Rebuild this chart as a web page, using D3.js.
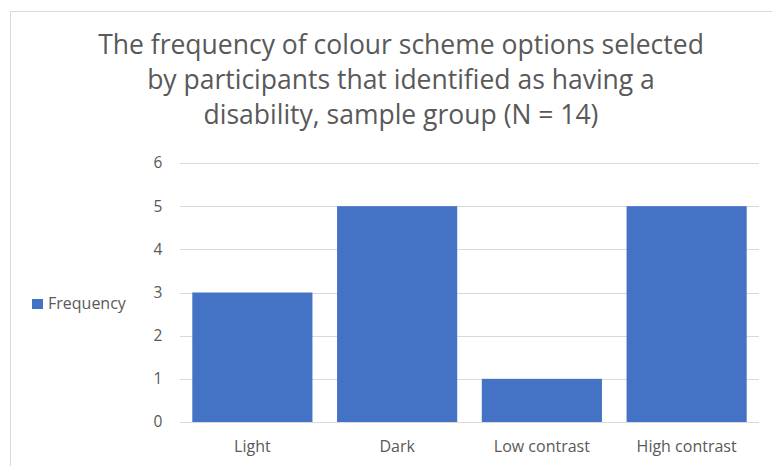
<!DOCTYPE html>
<html>
<head>
<meta charset="utf-8">
<script src="https://cdn.jsdelivr.net/npm/d3@7"></script>
<style>
  body { margin: 0; background: #fff; }
  svg { display: block; font-family: "Open Sans", sans-serif; }
</style>
</head>
<body>
<div id="chart"></div>
<script>
// chart data
var categories = ["Light", "Dark", "Low contrast", "High contrast"];
var frequency = [3, 5, 1, 5];
var yTicks = [0, 1, 2, 3, 4, 5, 6];
var titleLines = [
  "The frequency of colour scheme options selected",
  "by participants that identified as having a",
  "disability, sample group (N = 14)"
];
var seriesName = "Frequency";

var W = 772, H = 466;
var margin = {top: 163, right: 13, bottom: 44, left: 180};
var width = W - margin.left - margin.right,
    height = H - margin.top - margin.bottom;

var svg = d3.select("#chart").append("svg")
    .attr("width", W)
    .attr("height", H);

// outer chart border (only left/top visible in the crop)
svg.append("rect")
    .attr("x", 10.5).attr("y", 11.5)
    .attr("width", W + 20).attr("height", H + 20)
    .attr("fill", "none")
    .attr("stroke", "#d9d9d9")
    .attr("stroke-width", 1);

// title
svg.append("g").selectAll("text")
    .data(titleLines)
  .enter().append("text")
    .attr("x", 401)
    .attr("y", function(d, i) { return 54 + i * 35; })
    .attr("text-anchor", "middle")
    .style("font-size", "26.5px")
    .style("fill", "#595959")
    .text(function(d) { return d; });

var g = svg.append("g")
    .attr("transform", "translate(" + margin.left + "," + margin.top + ")");

var x = d3.scaleBand()
    .domain(categories)
    .range([0, width])
    .paddingInner(0.17)
    .paddingOuter(0.085);

var y = d3.scaleLinear()
    .domain([0, 6])
    .range([height, 0]);

// gridlines
g.append("g").selectAll("line")
    .data(yTicks)
  .enter().append("line")
    .attr("x1", 0).attr("x2", width)
    .attr("y1", function(d) { return Math.round(y(d)) + 0.5; })
    .attr("y2", function(d) { return Math.round(y(d)) + 0.5; })
    .attr("stroke", "#d9d9d9")
    .attr("stroke-width", 1);

// y tick labels
g.append("g").selectAll("text")
    .data(yTicks)
  .enter().append("text")
    .attr("x", -22)
    .attr("y", function(d) { return y(d); })
    .attr("dy", "0.35em")
    .attr("text-anchor", "middle")
    .style("font-size", "15.5px")
    .style("fill", "#595959")
    .text(function(d) { return d; });

// bars
g.append("g").selectAll("rect")
    .data(frequency)
  .enter().append("rect")
    .attr("x", function(d, i) { return x(categories[i]); })
    .attr("y", function(d) { return y(d); })
    .attr("width", x.bandwidth())
    .attr("height", function(d) { return y(0) - y(d); })
    .attr("fill", "#4472c4");

// x labels
g.append("g").selectAll("text")
    .data(categories)
  .enter().append("text")
    .attr("x", function(d) { return x(d) + x.bandwidth() / 2; })
    .attr("y", height + 30)
    .attr("text-anchor", "middle")
    .style("font-size", "16px")
    .style("fill", "#595959")
    .text(function(d) { return d; });

// legend
var legend = svg.append("g").attr("class", "legend");
legend.append("rect")
    .attr("x", 32).attr("y", 299)
    .attr("width", 11).attr("height", 10)
    .attr("fill", "#4472c4");
legend.append("text")
    .attr("x", 48).attr("y", 309)
    .style("font-size", "16px")
    .style("fill", "#595959")
    .text(seriesName);
</script>
</body>
</html>
